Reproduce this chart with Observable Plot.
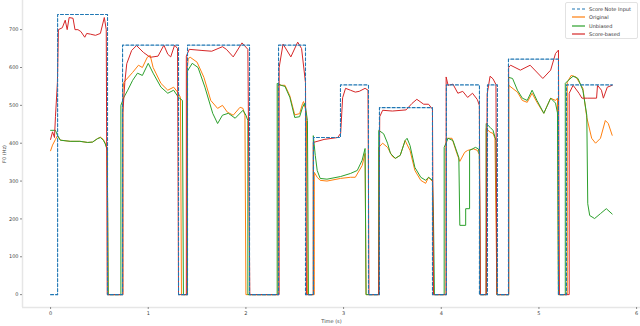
<!DOCTYPE html>
<html>
<head>
<meta charset="utf-8">
<script src="https://cdn.jsdelivr.net/npm/d3@7"></script>
<script src="https://cdn.jsdelivr.net/npm/@observablehq/plot@0.6"></script>
<style>
  body { margin: 0; background: #fff; font-family: "DejaVu Sans", sans-serif; }
  #wrap { position: relative; width: 640px; height: 326px; }
  #legend { position: absolute; left: 565px; top: 2px; width: 73px; height: 37px;
    border: 0.8px solid #e2e2e2; border-radius: 2px; background: rgba(255,255,255,0.8); box-sizing: border-box; }
  .row { position: absolute; left: 6px; height: 8px; display: flex; align-items: center; font-size: 5px; color: #333; white-space: nowrap; }
  .row svg { margin-right: 4px; }
</style>
</head>
<body>
<div id="wrap"><div id="legend"></div></div>
<script>
// Score note input: breakpoints (s) and pitch (Hz), step-after
const noteTimes = [0, 0.072, 0.583, 0.737, 1.310, 1.402, 2.037, 2.334, 2.610, 2.692, 2.968, 3.255, 3.367, 3.910, 4.053, 4.391, 4.473, 4.575, 4.688, 5.200, 5.282, 5.752];
const notePitch = [0, 740, 0, 659, 0, 659, 0, 659, 0, 415, 554, 0, 494, 0, 554, 0, 554, 0, 622, 0, 554, 554];

// Original
const original = [[0,380],[0.02,395],[0.05,410],[0.07,420],[0.10,408],[0.20,405],[0.30,405],[0.38,402],[0.43,403],[0.48,412],[0.51,416],[0.54,410],[0.56,400],[0.58,385],[0.59,0],
 [0.74,0],[0.74,540],[0.75,561],[0.84,587],[0.90,606],[0.94,600],[0.99,627],[1.02,632],[1.05,600],[1.13,558],[1.20,540],[1.26,548],[1.30,535],[1.33,521],[1.34,0],
 [1.40,0],[1.40,600],[1.41,624],[1.43,627],[1.50,614],[1.57,574],[1.64,513],[1.71,492],[1.76,500],[1.81,482],[1.87,474],[1.94,495],[1.97,492],[1.99,474],[2.00,0],
 [2.33,0],[2.33,555],[2.36,553],[2.40,553],[2.45,525],[2.50,475],[2.55,478],[2.58,505],[2.59,510],[2.61,490],[2.62,460],[2.63,0],
 [2.70,0],[2.70,323],[2.73,310],[2.76,302],[2.83,300],[2.97,307],[3.07,310],[3.12,310],[3.19,341],[3.22,373],[3.23,0],
 [3.36,0],[3.36,389],[3.40,400],[3.45,389],[3.50,365],[3.53,360],[3.58,368],[3.63,407],[3.68,381],[3.73,328],[3.79,302],[3.84,294],[3.87,310],[3.91,299],[3.92,0],
 [4.05,0],[4.05,413],[4.11,413],[4.16,373],[4.19,352],[4.24,376],[4.27,381],[4.33,385],[4.37,381],[4.39,370],[4.40,0],
 [4.46,0],[4.46,439],[4.50,429],[4.53,426],[4.55,413],[4.57,0],
 [4.69,0],[4.69,553],[4.78,535],[4.83,513],[4.88,508],[4.93,532],[4.98,508],[5.05,479],[5.12,519],[5.17,513],[5.19,519],[5.20,0],
 [5.29,0],[5.29,561],[5.33,579],[5.38,575],[5.45,545],[5.49,468],[5.54,413],[5.58,400],[5.63,413],[5.68,460],[5.71,452],[5.75,421]];

// Unbiased
const unbiased = [[0,434],[0.05,434],[0.07,421],[0.10,408],[0.20,405],[0.30,405],[0.38,402],[0.43,403],[0.48,412],[0.51,415],[0.54,408],[0.56,398],[0.58,382],[0.59,0],
 [0.72,0],[0.72,500],[0.75,521],[0.79,540],[0.84,566],[0.89,585],[0.94,579],[1.00,611],[1.05,585],[1.13,548],[1.20,532],[1.26,540],[1.31,521],[1.35,513],[1.36,0],
 [1.40,0],[1.40,590],[1.45,611],[1.51,600],[1.58,548],[1.66,479],[1.71,452],[1.76,474],[1.82,479],[1.89,466],[1.97,487],[2.00,474],[2.02,460],[2.02,0],
 [2.32,0],[2.32,558],[2.36,553],[2.40,550],[2.45,521],[2.50,468],[2.55,470],[2.58,495],[2.60,505],[2.61,495],[2.63,460],[2.64,0],
 [2.69,0],[2.69,420],[2.71,368],[2.73,328],[2.76,307],[2.83,305],[2.97,312],[3.07,320],[3.14,328],[3.19,355],[3.22,386],[3.23,0],
 [3.36,0],[3.36,434],[3.41,425],[3.45,400],[3.48,373],[3.53,360],[3.58,368],[3.63,407],[3.65,413],[3.68,394],[3.73,336],[3.79,310],[3.84,302],[3.87,310],[3.91,302],[3.92,210],[3.93,0],
 [4.03,0],[4.03,389],[4.07,413],[4.12,407],[4.18,362],[4.19,183],[4.25,183],[4.25,227],[4.29,227],[4.29,381],[4.32,385],[4.35,389],[4.38,385],[4.39,370],[4.40,0],
 [4.46,0],[4.46,452],[4.50,442],[4.53,434],[4.56,407],[4.57,0],
 [4.69,0],[4.69,574],[4.73,571],[4.78,540],[4.83,519],[4.88,513],[4.93,540],[4.98,513],[5.05,479],[5.12,519],[5.17,506],[5.19,480],[5.20,0],
 [5.27,0],[5.27,558],[5.30,566],[5.35,577],[5.40,571],[5.45,540],[5.49,474],[5.50,240],[5.52,209],[5.57,201],[5.63,214],[5.69,227],[5.75,213]];

// Score-based
const scoreBased = [[0,410],[0.02,430],[0.04,415],[0.05,470],[0.07,560],[0.08,700],[0.12,705],[0.15,725],[0.17,700],[0.19,732],[0.23,730],[0.25,700],[0.28,700],[0.31,695],[0.35,680],[0.37,690],[0.41,688],[0.46,685],[0.51,690],[0.55,732],[0.57,700],[0.58,0],
 [0.74,0],[0.74,480],[0.76,560],[0.78,610],[0.83,645],[0.88,658],[0.95,640],[1.02,627],[1.10,630],[1.16,659],[1.20,635],[1.23,628],[1.27,659],[1.30,650],[1.31,0],
 [1.39,0],[1.39,630],[1.42,648],[1.55,645],[1.65,643],[1.76,655],[1.80,648],[1.87,628],[1.96,665],[2.02,648],[2.04,0],
 [2.34,0],[2.34,600],[2.38,662],[2.46,628],[2.53,667],[2.57,650],[2.61,560],[2.62,0],
 [2.69,0],[2.69,402],[2.80,410],[2.94,415],[2.97,426],[2.99,520],[3.02,545],[3.07,540],[3.12,535],[3.16,537],[3.22,545],[3.25,540],[3.26,0],
 [3.36,0],[3.37,470],[3.40,487],[3.50,485],[3.64,488],[3.70,505],[3.75,516],[3.82,503],[3.87,503],[3.91,490],[3.92,0],
 [4.05,0],[4.05,575],[4.07,553],[4.12,556],[4.17,532],[4.22,537],[4.27,521],[4.32,532],[4.37,515],[4.39,500],[4.40,0],
 [4.46,0],[4.47,530],[4.50,577],[4.53,570],[4.56,555],[4.57,0],
 [4.69,0],[4.69,600],[4.71,606],[4.81,593],[4.91,606],[5.04,571],[5.12,593],[5.17,637],[5.20,646],[5.21,0],
 [5.31,0],[5.31,532],[5.35,553],[5.41,532],[5.44,519],[5.50,519],[5.59,519],[5.60,553],[5.64,540],[5.66,519],[5.70,548],[5.75,553]];

const xTicks = [0, 1, 2, 3, 4, 5, 6];
const yTicks = [0, 100, 200, 300, 400, 500, 600, 700];
const legendLabels = ["Score Note Input", "Original", "Unbiased", "Score-based"];
const colors = ["#1f77b4", "#ff7f0e", "#2ca02c", "#d62728"];

const toRows = arr => arr.map(([t, v]) => ({t, v}));
const noteRows = noteTimes.map((t, i) => ({t, v: notePitch[i]}));

const xDom = [-0.2875, 6.04];
const yDom = [-34, 777];

const chart = Plot.plot({
  width: 640, height: 326,
  marginLeft: 22, marginRight: 0, marginTop: 0, marginBottom: 19,
  style: {fontFamily: "DejaVu Sans, sans-serif", background: "#fff", color: "#444"},
  x: {domain: xDom},
  y: {domain: yDom},
  marks: [
    Plot.ruleX([xDom[0]], {stroke: "#e6e6e6", strokeWidth: 1.5}),
    Plot.ruleY([yDom[0]], {stroke: "#e6e6e6", strokeWidth: 1.5}),
    Plot.axisX({ticks: xTicks, tickFormat: d => String(d), tickSize: 2, tickPadding: 2, fontSize: 5, label: null, stroke: "#888"}),
    Plot.axisY({ticks: yTicks, tickFormat: d => String(d), tickSize: 2, tickPadding: 2, fontSize: 5, label: null, stroke: "#888"}),
    Plot.text(["Time (s)"], {frameAnchor: "bottom", dy: 15, fontSize: 5, fill: "#444"}),
    Plot.text(["F0 (Hz)"], {frameAnchor: "left", dx: -18, rotate: -90, textAnchor: "middle", fontSize: 5, fill: "#444"}),
    Plot.line(toRows(original), {x: "t", y: "v", stroke: colors[1], strokeWidth: 1}),
    Plot.line(toRows(unbiased), {x: "t", y: "v", stroke: colors[2], strokeWidth: 1}),
    Plot.line(toRows(scoreBased), {x: "t", y: "v", stroke: colors[3], strokeWidth: 1}),
    Plot.line(noteRows, {x: "t", y: "v", curve: "step-after", stroke: colors[0], strokeWidth: 1.1, strokeDasharray: "3,2"})
  ]
});
document.getElementById("wrap").prepend(chart);

const legend = document.getElementById("legend");
legendLabels.forEach((lab, i) => {
  const row = document.createElement("div");
  row.className = "row";
  row.style.top = (2 + i * 8.4) + "px";
  const dash = i === 0 ? ' stroke-dasharray="3,2"' : '';
  row.innerHTML = `<svg width="13" height="4"><line x1="0" y1="2" x2="13" y2="2" stroke="${colors[i]}" stroke-width="1.2"${dash}/></svg><span>${lab}</span>`;
  legend.appendChild(row);
});
</script>
</body>
</html>
